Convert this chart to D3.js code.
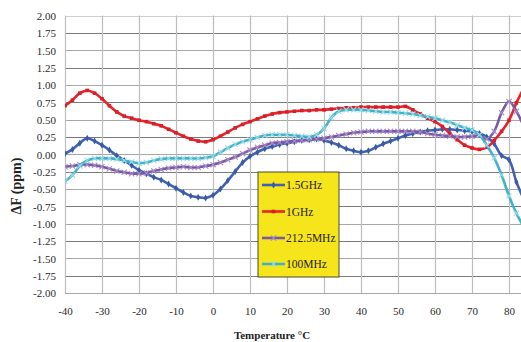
<!DOCTYPE html>
<html><head><meta charset="utf-8">
<script src="https://cdn.jsdelivr.net/npm/d3@7"></script>
<style>html,body{margin:0;padding:0;background:#fff;overflow:hidden}</style>
</head><body><svg id="c" width="521" height="342"></svg>
<script>
const temps = [-40,-38,-36,-34,-32,-30,-28,-26,-24,-22,-20,-18,-16,-14,-12,-10,-8,-6,-4,-2,0,2,4,6,8,10,12,14,16,18,20,22,24,26,28,30,32,34,36,38,40,42,44,46,48,50,52,54,56,58,60,62,64,66,68,70,72,74,76,78,80,82,84];
const ghz15 = [0.01,0.07,0.16,0.23,0.19,0.13,0.06,-0.02,-0.09,-0.16,-0.23,-0.28,-0.33,-0.37,-0.43,-0.49,-0.55,-0.60,-0.62,-0.63,-0.59,-0.50,-0.38,-0.25,-0.12,-0.03,0.03,0.08,0.11,0.14,0.16,0.18,0.20,0.21,0.22,0.20,0.17,0.13,0.08,0.05,0.03,0.05,0.10,0.15,0.19,0.23,0.27,0.30,0.32,0.34,0.35,0.36,0.36,0.35,0.34,0.33,0.30,0.25,0.15,-0.02,-0.08,-0.40,-0.65];
const ghz1 = [0.70,0.78,0.88,0.92,0.88,0.80,0.70,0.61,0.55,0.52,0.49,0.47,0.44,0.41,0.36,0.31,0.26,0.22,0.19,0.18,0.21,0.26,0.32,0.38,0.43,0.47,0.51,0.55,0.58,0.60,0.61,0.62,0.63,0.63,0.64,0.64,0.65,0.66,0.67,0.67,0.68,0.68,0.68,0.68,0.68,0.68,0.69,0.64,0.58,0.52,0.47,0.40,0.30,0.21,0.13,0.09,0.07,0.10,0.20,0.33,0.49,0.74,0.95];
const mhz2125 = [-0.18,-0.17,-0.15,-0.15,-0.16,-0.18,-0.21,-0.24,-0.26,-0.28,-0.28,-0.27,-0.24,-0.22,-0.20,-0.19,-0.18,-0.19,-0.19,-0.17,-0.15,-0.12,-0.08,-0.04,0.01,0.06,0.10,0.13,0.16,0.17,0.18,0.19,0.20,0.21,0.22,0.23,0.25,0.27,0.29,0.31,0.32,0.33,0.33,0.33,0.33,0.33,0.33,0.33,0.32,0.30,0.28,0.27,0.26,0.25,0.25,0.26,0.27,0.22,0.33,0.60,0.76,0.62,0.40];
const mhz100 = [-0.39,-0.30,-0.17,-0.09,-0.06,-0.06,-0.06,-0.07,-0.09,-0.11,-0.13,-0.12,-0.09,-0.07,-0.06,-0.06,-0.06,-0.06,-0.06,-0.05,-0.03,0.03,0.09,0.14,0.18,0.21,0.24,0.27,0.28,0.28,0.28,0.27,0.26,0.25,0.28,0.37,0.53,0.62,0.64,0.64,0.64,0.63,0.62,0.61,0.61,0.60,0.59,0.58,0.56,0.54,0.52,0.49,0.46,0.42,0.38,0.35,0.28,0.13,-0.05,-0.30,-0.60,-0.85,-1.05];
const seriesNames = ["1.5GHz","1GHz","212.5MHz","100MHz"];
const xTicks = [-40,-30,-20,-10,0,10,20,30,40,50,60,70,80];
const yTicks = [-2,-1.75,-1.5,-1.25,-1,-0.75,-0.5,-0.25,0,0.25,0.5,0.75,1,1.25,1.5,1.75,2];

const series = [
  {name:seriesNames[0], vals:ghz15, color:"#4062b0", mcolor:"#3a5aa8", marker:"diamond"},
  {name:seriesNames[1], vals:ghz1, color:"#e8232b", mcolor:"#d61f26", marker:"square"},
  {name:seriesNames[2], vals:mhz2125, color:"#7b57a4", mcolor:"#a58ccc", marker:"x"},
  {name:seriesNames[3], vals:mhz100, color:"#3fb2c9", mcolor:"#9adbe8", marker:"x"}
];

const svg = d3.select("#c");
const x = d3.scaleLinear().domain([-40,90]).range([65, 546]);
const y = d3.scaleLinear().domain([-2,2]).range([293, 15.5]);

// horizontal grid
svg.append("g").selectAll("line").data(yTicks).join("line")
  .attr("x1", 65).attr("x2", 521)
  .attr("y1", d=>Math.round(y(d))+0.5).attr("y2", d=>Math.round(y(d))+0.5)
  .attr("stroke", (d,i)=> (d===2)?"#cfcfcf":(i%2===1?"#7a7a7a":"#a8a8a8"))
  .attr("stroke-width", 1.2);
// vertical grid
svg.append("g").selectAll("line").data(xTicks).join("line")
  .attr("x1", d=>Math.round(x(d))+0.5).attr("x2", d=>Math.round(x(d))+0.5)
  .attr("y1", y(2)).attr("y2", y(-2))
  .attr("stroke", "#bdbdbd").attr("stroke-width", 1.2);

// axes labels via d3 axes
const yAxis = d3.axisLeft(y).tickValues(yTicks).tickSize(0).tickPadding(0)
  .tickFormat(d=>d3.format(".2f")(d).replace("−","-"));
const gy = svg.append("g").attr("transform","translate(56,0)").call(yAxis);
gy.select(".domain").remove();
gy.selectAll("text").attr("font-family","'Liberation Serif', serif").attr("font-size","11px").attr("fill","#2a2a2a").attr("dy","0.35em");

const xAxis = d3.axisBottom(x).tickValues(xTicks).tickSize(0).tickPadding(0).tickFormat(d=>String(d));
const gx = svg.append("g").attr("transform","translate(0,307)").call(xAxis);
gx.select(".domain").remove();
gx.selectAll("text").attr("font-family","'Liberation Serif', serif").attr("font-size","11px").attr("fill","#2a2a2a").attr("dy","0.75em");

// clip for plot
svg.append("clipPath").attr("id","pc").append("rect").attr("x",65).attr("y",0).attr("width",470).attr("height",342);

const line = d3.line().x((d,i)=>x(temps[i])).y(d=>y(d)).curve(d3.curveCatmullRom.alpha(0.5));
const plot = svg.append("g").attr("clip-path","url(#pc)");

function drawMarker(g, type, color, cx, cy, scale){
  scale = scale||1;
  if(type==="diamond"){
    g.append("path").attr("d", d3.symbol(d3.symbolDiamond, 14*scale)()).attr("transform",`translate(${cx},${cy})`).attr("fill",color);
  } else if(type==="square"){
    g.append("rect").attr("x",cx-1.8).attr("y",cy-1.8).attr("width",3.6).attr("height",3.6).attr("fill",color);
  } else {
    const s=2.6;
    g.append("path").attr("d",`M${cx-s},${cy-s}L${cx+s},${cy+s}M${cx-s},${cy+s}L${cx+s},${cy-s}`).attr("stroke",color).attr("stroke-width",1.1).attr("fill","none");
  }
}

series.forEach(s=>{
  const g = plot.append("g");
  g.append("path").datum(s.vals).attr("d", line).attr("fill","none").attr("stroke", s.color).attr("stroke-width", 2.6).attr("stroke-linejoin","round");
  s.vals.forEach((v,i)=> drawMarker(g, s.marker, s.mcolor, x(temps[i]), y(v)));
});

// legend
const lg = svg.append("g");
lg.append("rect").attr("x",258).attr("y",172).attr("width",81).attr("height",105)
  .attr("fill","#f7e51c").attr("stroke","#4a4a2a").attr("stroke-width",1);
const rowY = [185, 211.5, 238, 264];
series.forEach((s,i)=>{
  lg.append("line").attr("x1",262).attr("x2",285).attr("y1",rowY[i]).attr("y2",rowY[i]).attr("stroke",s.color).attr("stroke-width",2.6);
  drawMarker(lg, s.marker, s.mcolor, 273.5, rowY[i]);
  lg.append("text").attr("x",286).attr("y",rowY[i]).attr("dy","0.35em")
    .attr("font-family","'Liberation Serif', serif").attr("font-size","11.5px").attr("fill","#222").text(s.name);
});

// titles
svg.append("text").attr("x",272).attr("y",339).attr("text-anchor","middle")
  .attr("font-family","'Liberation Serif', serif").attr("font-weight","bold").attr("font-size","11px").attr("fill","#222")
  .text("Temperature °C");
svg.append("text").attr("transform","translate(21,186) rotate(-90)").attr("text-anchor","middle")
  .attr("font-family","'Liberation Serif', serif").attr("font-weight","bold").attr("font-size","14px").attr("fill","#222")
  .text("ΔF (ppm)");
</script></body></html>
